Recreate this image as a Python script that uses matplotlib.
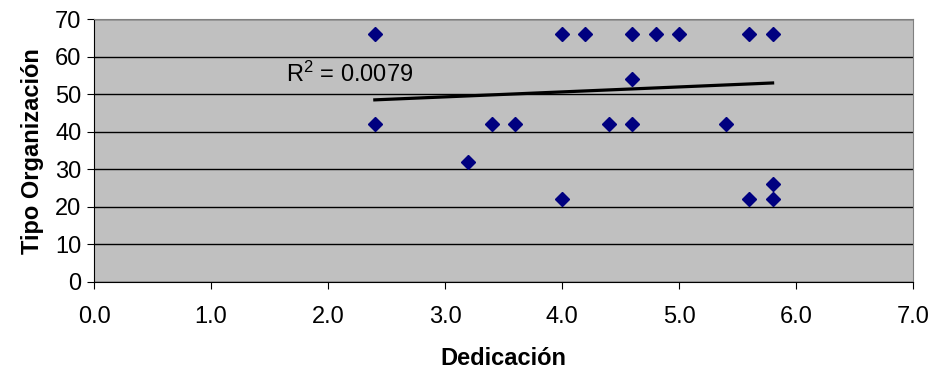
import matplotlib
matplotlib.use('Agg')
import matplotlib.pyplot as plt

plt.rcParams['font.family'] = ['Liberation Sans', 'DejaVu Sans']

dedicacion = [2.4, 2.4, 3.2, 3.4, 3.6, 4.0, 4.0, 4.2, 4.4, 4.6,
              4.6, 4.6, 4.8, 5.0, 5.4, 5.6, 5.6, 5.8, 5.8, 5.8]
tipo_org = [66, 42, 32, 42, 42, 66, 22, 66, 42, 66,
            54, 42, 66, 66, 42, 66, 22, 66, 26, 22]
# linear trend line end points
trend_x = [2.4, 5.8]
trend_y = [48.5, 53.0]
x_ticks = [0.0, 1.0, 2.0, 3.0, 4.0, 5.0, 6.0, 7.0]
y_ticks = [0, 10, 20, 30, 40, 50, 60, 70]
r2_label = 'R$^2$ = 0.0079'

plt.rcParams['mathtext.fontset'] = 'custom'
plt.rcParams['mathtext.rm'] = 'Liberation Sans'
plt.rcParams['mathtext.default'] = 'rm'

fig = plt.figure(figsize=(9.32, 3.75), dpi=100)
ax = fig.add_axes([0.1009, 0.248, 0.8787, 0.701])
ax.set_facecolor('#C0C0C0')

ax.plot(trend_x, trend_y, color='black', lw=2.3, zorder=3)
ax.plot(dedicacion, tipo_org, 'D', color='#000080', ms=7.5, zorder=4)

ax.text(1.64, 55.3, r2_label, fontsize=17, va='center')

ax.set_xlim(0, 7)
ax.set_ylim(0, 70)
ax.set_xticks(x_ticks)
ax.set_xticklabels(['%.1f' % v for v in x_ticks])
ax.set_yticks(y_ticks)
ax.tick_params(labelsize=17, length=5, color='black', direction='out')
ax.tick_params(axis='x', pad=12)
ax.tick_params(axis='y', pad=4)
ax.yaxis.grid(True, color='black', lw=1)
ax.set_axisbelow(True)

for side in ['top', 'right']:
    ax.spines[side].set_color('#808080')
for side in ['left', 'bottom']:
    ax.spines[side].set_color('black')

ax.set_xlabel('Dedicación', fontsize=17, fontweight='bold', labelpad=14)
ax.set_ylabel('Tipo Organización', fontsize=17, fontweight='bold', labelpad=8)

fig.savefig('out.png', dpi=100, facecolor='white')
